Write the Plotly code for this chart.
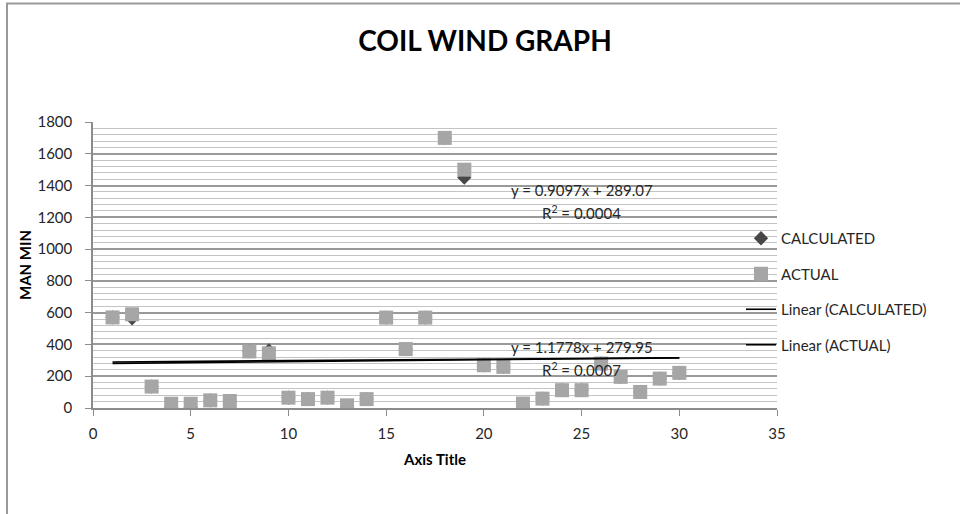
import plotly.graph_objects as go

# ---- data ----
x_vals = list(range(1, 31))
actual = [570, 590, 135, 27, 27, 48, 44, 356, 344, 65,
          56, 65, 17, 56, 569, 371, 569, 1700, 1500, 269,
          259, 28, 59, 112, 112, 280, 196, 101, 185, 221]
calculated = [570, 565, 135, 3, 3, 48, 44, 356, 362, 65,
              56, 65, 5, 56, 569, 371, 569, 1700, 1450, 269,
              259, 5, 59, 112, 112, 280, 196, 101, 185, 221]
trend_calc = (0.9097, 289.07)
trend_act = (1.1778, 279.95)
trend_x = [1, 30]
eq_calc = ["y = 0.9097x + 289.07", "R<sup>2</sup> = 0.0004"]
eq_act = ["y = 1.1778x + 279.95", "R<sup>2</sup> = 0.0007"]

FONT = "Lato"
TXT = "#262626"

fig = go.Figure()
fig.add_trace(go.Scatter(x=x_vals, y=calculated, mode="markers", name="CALCULATED",
                         legendgroup="a",
                         marker=dict(symbol="diamond", size=11, color="#474747")))
fig.add_trace(go.Scatter(x=x_vals, y=actual, mode="markers", name="ACTUAL",
                         legendgroup="b",
                         marker=dict(symbol="square", size=14, color="#a6a6a6")))
fig.add_trace(go.Scatter(x=trend_x, y=[trend_calc[0] * v + trend_calc[1] for v in trend_x],
                         mode="lines", name="Linear (CALCULATED)", legendgroup="c",
                         line=dict(color="black", width=1.6)))
fig.add_trace(go.Scatter(x=trend_x, y=[trend_act[0] * v + trend_act[1] for v in trend_x],
                         mode="lines", name="Linear (ACTUAL)", legendgroup="d",
                         line=dict(color="black", width=1.6)))

annots = []
for txt, yy in zip(eq_calc + eq_act, [1373, 1228, 383, 244]):
    annots.append(dict(x=25, y=yy, xref="x", yref="y", text=txt, showarrow=False,
                       font=dict(family=FONT, size=15, color=TXT),
                       xanchor="center", yanchor="middle"))

fig.update_layout(
    width=960, height=514,
    margin=dict(l=93, r=183, t=122, b=106),
    paper_bgcolor="white", plot_bgcolor="white",
    font=dict(family=FONT, size=15, color=TXT),
    title=dict(text="<b>COIL WIND GRAPH</b>", x=485 / 960, xanchor="center",
               y=1 - 41 / 514, yanchor="middle", yref="container",
               font=dict(family=FONT, size=28, color="black")),
    xaxis=dict(range=[0, 35], dtick=5, tick0=0, showgrid=False, zeroline=False,
               showline=True, linecolor="#8c8c8c", linewidth=1.5,
               ticks="outside", ticklen=6, tickcolor="#8c8c8c",
               ticklabelstandoff=5,
               title=dict(text="<b>Axis Title</b>", standoff=14,
                          font=dict(family=FONT, size=15, color="black"))),
    yaxis=dict(range=[0, 1800], dtick=200, tick0=0, showgrid=True,
               gridcolor="#9a9a9a", gridwidth=1.5, zeroline=False,
               showline=True, linecolor="#8c8c8c", linewidth=1.5,
               ticks="outside", ticklen=6, tickcolor="#8c8c8c",
               ticklabelstandoff=10,
               minor=dict(dtick=40, showgrid=True, gridcolor="#c4c4c4", gridwidth=1),
               title=dict(text="<b>MAN MIN</b>", standoff=2,
                          font=dict(family=FONT, size=15, color="black"))),
    legend=dict(x=(741 - 93) / 684, xanchor="left", y=(408 - 222) / 286, yanchor="top",
                bgcolor="rgba(0,0,0,0)", tracegroupgap=13,
                font=dict(family=FONT, size=15, color=TXT)),
    annotations=annots,
    shapes=[dict(type="rect", xref="paper", yref="paper",
                 x0=(7 - 93) / 684, x1=(970 - 93) / 684,
                 y0=(408 - 530) / 286, y1=(408 - 3.5) / 286,
                 line=dict(color="#999999", width=2), layer="below")],
)

fig.write_html("out.html")
